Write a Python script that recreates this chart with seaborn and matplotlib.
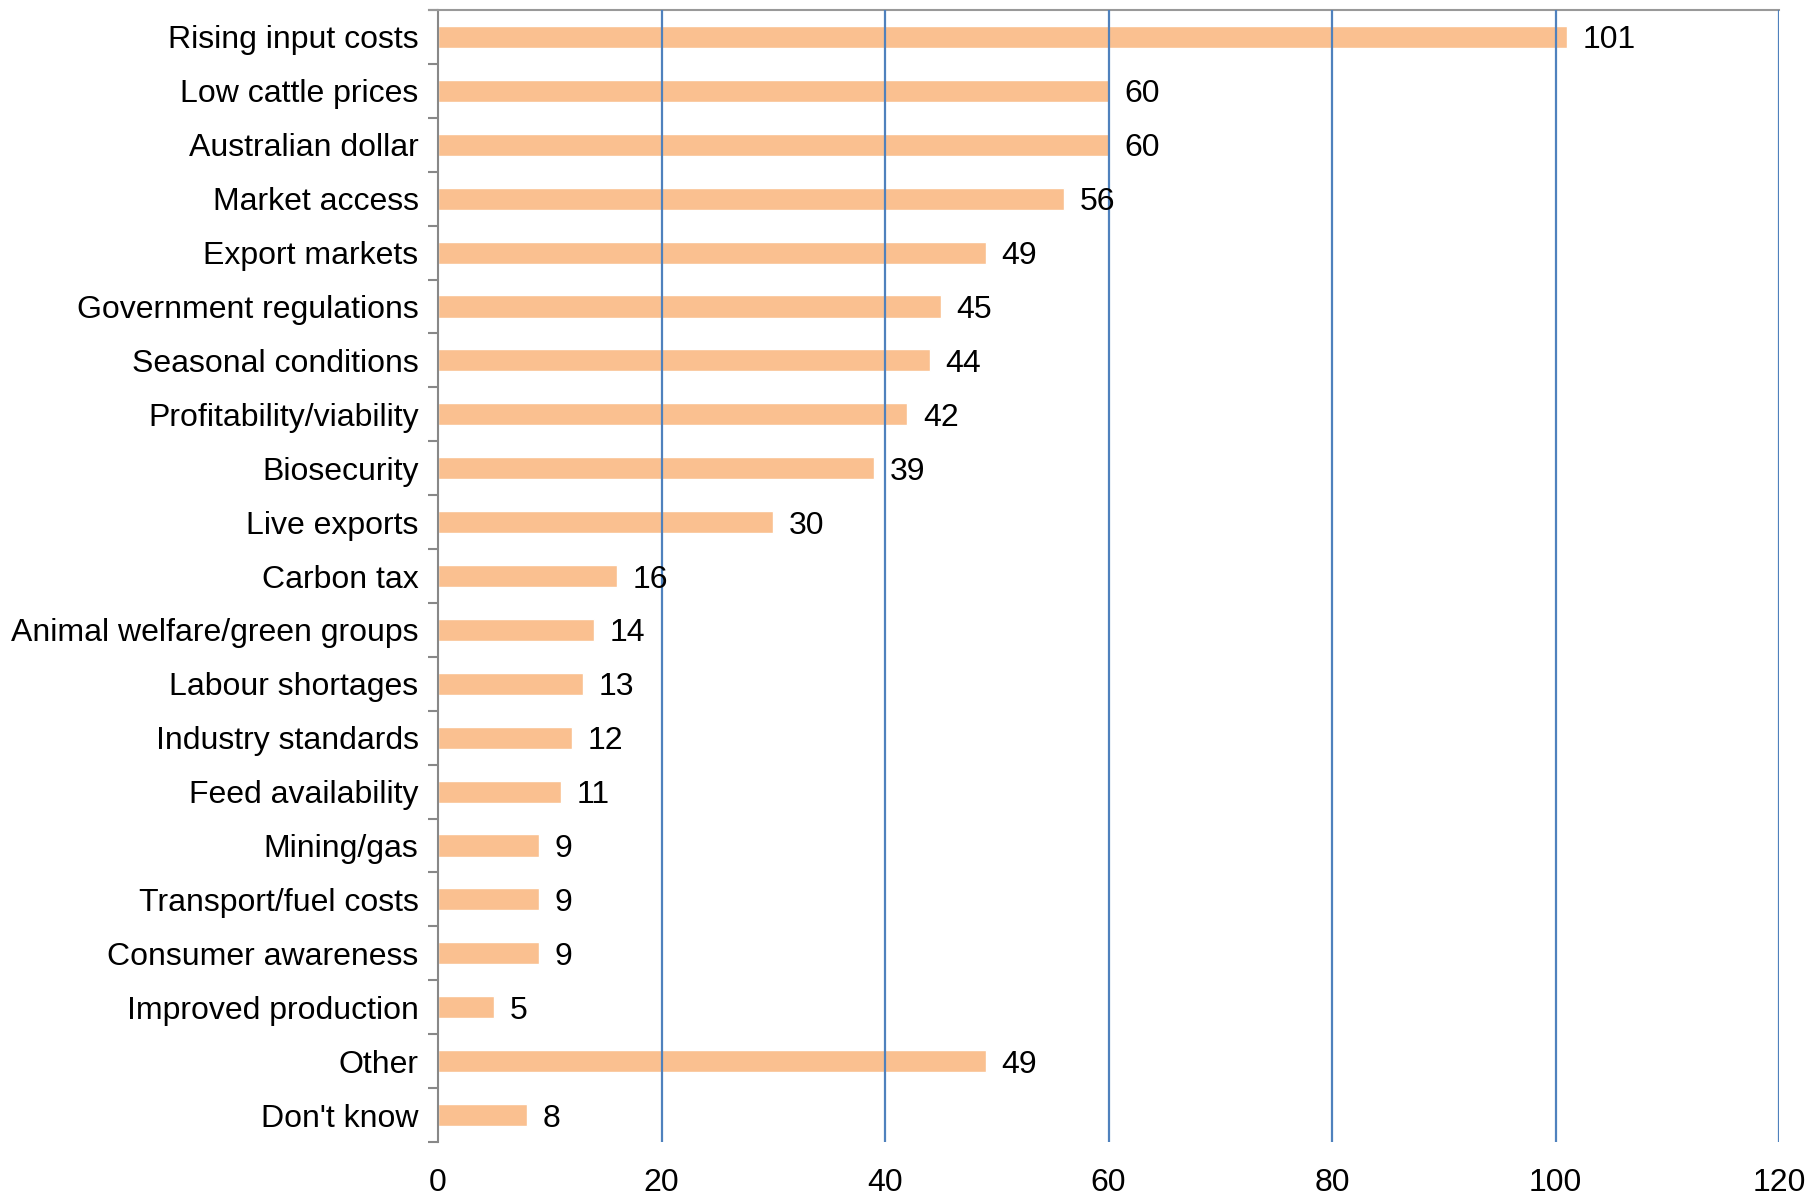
import matplotlib
matplotlib.use("Agg")
import matplotlib.pyplot as plt
import seaborn as sns
import pandas as pd

categories = ["Rising input costs", "Low cattle prices", "Australian dollar", "Market access",
              "Export markets", "Government regulations", "Seasonal conditions",
              "Profitability/viability", "Biosecurity", "Live exports", "Carbon tax",
              "Animal welfare/green groups", "Labour shortages", "Industry standards",
              "Feed availability", "Mining/gas", "Transport/fuel costs", "Consumer awareness",
              "Improved production", "Other", "Don't know"]
values = [101, 60, 60, 56, 49, 45, 44, 42, 39, 30, 16, 14, 13, 12, 11, 9, 9, 9, 5, 49, 8]
xticks = [0, 20, 40, 60, 80, 100, 120]

sns.set_theme(style="white")
plt.rcParams['font.family'] = ['Liberation Sans', 'DejaVu Sans']
plt.rcParams['text.color'] = 'black'
plt.rcParams['xtick.color'] = 'black'
plt.rcParams['ytick.color'] = 'black'

df = pd.DataFrame({"cat": categories, "val": values})

fig = plt.figure(figsize=(18.12, 11.99), dpi=100)
ax = fig.add_axes([438/1812, 1 - 1142/1199, (1779-438)/1812, (1142-10)/1199])

sns.barplot(data=df, x="val", y="cat", color="#FAC090", saturation=1, width=0.41, ax=ax, zorder=2)

ax.set_xlim(0, 120)
ax.set_ylim(len(categories) - 0.5, -0.5)
ax.set_xticks(xticks)
ax.set_xticklabels([str(t) for t in xticks])
ax.set_xlabel("")
ax.set_ylabel("")
for t in xticks[1:]:
    ax.axvline(t, color="#4F81BD", lw=1.6, zorder=3)

ax.set_yticks(range(len(categories)))
ax.set_yticklabels(categories)
ax.tick_params(axis="y", which="major", length=0, pad=14, labelsize=23, labelcolor="black")
ax.set_yticks([i - 0.5 for i in range(len(categories) + 1)], minor=True)
ax.tick_params(axis="y", which="minor", left=True, length=7, width=1.5, color="#888888", direction="out")
ax.tick_params(axis="x", length=0, pad=19, labelsize=23, labelcolor="black")

for s in ["bottom", "right"]:
    ax.spines[s].set_visible(False)
ax.spines["left"].set_color("#888888")
ax.spines["left"].set_linewidth(1.5)
ax.spines["top"].set_color("#999999")
ax.spines["top"].set_linewidth(1.5)
ax.spines["top"].set_bounds(-0.8, 120)

for i, v in enumerate(values):
    ax.text(v + 1.4, i, str(v), va="center_baseline", ha="left", fontsize=23, color="black", zorder=4)

fig.savefig("out.png", dpi=100)
